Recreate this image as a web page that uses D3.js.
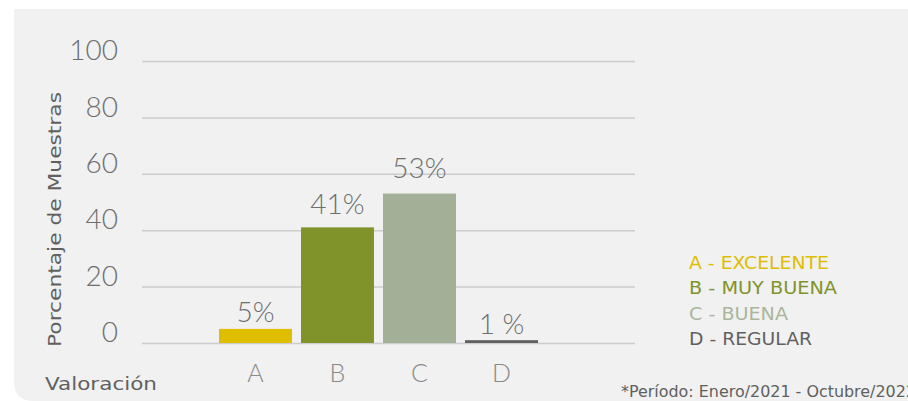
<!DOCTYPE html>
<html><head><meta charset="utf-8">
<script src="https://cdn.jsdelivr.net/npm/d3@7"></script>
<style>
html,body{margin:0;padding:0;background:#fff;}
svg{display:block;}
</style></head>
<body>
<svg id="chart" width="908" height="401"></svg>
<script>
const categories = ["A","B","C","D"];
const values = [5, 41, 53, 1];
const valueLabels = ["5%","41%","53%","1 %"];
const colors = ["#dfbd00","#80932a","#a4af97","#606060"];
const yTicks = [0,20,40,60,80,100];
const legendLabels = ["A - EXCELENTE","B - MUY BUENA","C - BUENA","D - REGULAR"];
const legendColors = ["#dfbd00","#80932a","#a9b59c","#606060"];

const svg = d3.select("#chart");
// panel
svg.append("path")
  .attr("d","M14,9 H908 V401 H34 Q14,401 14,381 Z")
  .attr("fill","#f1f1f1");

const y = d3.scaleLinear().domain([0,100]).range([343,61]);
const x = d3.scaleBand().domain(categories).range([219,538]).paddingInner(0.11).paddingOuter(0);

const lightFont = "Lato, 'Open Sans', sans-serif";
const uiFont = "'DejaVu Sans', 'Noto Sans', sans-serif";

function fitWidth(sel, w){
  sel.attr("textLength", w).attr("lengthAdjust","spacingAndGlyphs");
}

// gridlines
const yAxis = d3.axisLeft(y).tickValues(yTicks).tickSize(-(635-142)).tickFormat(d=>d).tickPadding(24);
const gAxis = svg.append("g").attr("transform","translate(142,0)").call(yAxis);
gAxis.select(".domain").remove();
gAxis.selectAll(".tick line").attr("stroke","#cdcdcd").attr("stroke-width",1.5);
gAxis.selectAll(".tick text")
  .attr("x",-24).attr("dy","-0.05em").attr("text-anchor","end")
  .attr("fill","#6e6e6e").style("font-family",lightFont).style("font-weight",300).style("font-size","28px");

// bars
svg.selectAll("rect.bar").data(values).enter().append("rect")
  .attr("class","bar")
  .attr("x",(d,i)=>x(categories[i]))
  .attr("width",x.bandwidth())
  .attr("y",d=>y(d))
  .attr("height",d=>y(0)-y(d))
  .attr("fill",(d,i)=>colors[i]);

// value labels
svg.selectAll("text.val").data(values).enter().append("text")
  .attr("class","val")
  .attr("x",(d,i)=>x(categories[i])+x.bandwidth()/2)
  .attr("y",d=>y(d)-6-d*0.18)
  .attr("text-anchor","middle")
  .attr("fill","#6e6e6e").style("font-family",lightFont).style("font-weight",300).style("font-size","28px")
  .text((d,i)=>valueLabels[i]);

// x category labels
const xAxis = d3.axisBottom(x).tickSize(0).tickPadding(0);
const gx = svg.append("g").attr("transform","translate(0,382)").call(xAxis);
gx.select(".domain").remove();
gx.selectAll(".tick text").attr("y",0).attr("dy",0)
  .attr("fill","#8a8a8a").style("font-family",lightFont).style("font-weight",300).style("font-size","25px");

// axis titles
svg.append("text")
  .attr("transform","translate(61,219.5) rotate(-90)")
  .attr("text-anchor","middle")
  .attr("fill","#606060").style("font-family",uiFont).style("font-size","17.5px")
  .text("Porcentaje de Muestras").call(fitWidth,255);
svg.append("text")
  .attr("x",45).attr("y",390)
  .attr("fill","#606060").style("font-family",uiFont).style("font-size","17.5px")
  .text("Valoración").call(fitWidth,112);

// legend
const legWidths = [140,148,99,123];
svg.selectAll("text.leg").data(legendLabels).enter().append("text")
  .attr("class","leg")
  .attr("x",689).attr("y",(d,i)=>269+i*25.3)
  .attr("fill",(d,i)=>legendColors[i])
  .style("font-family",uiFont).style("font-size","17px")
  .attr("textLength",(d,i)=>legWidths[i]).attr("lengthAdjust","spacingAndGlyphs")
  .text(d=>d);

// footnote
svg.append("text")
  .attr("x",621).attr("y",397)
  .attr("fill","#606060").style("font-family",uiFont).style("font-size","15px")
  .text("*Período: Enero/2021 - Octubre/2022").call(fitWidth,295);
</script>
</body></html>
